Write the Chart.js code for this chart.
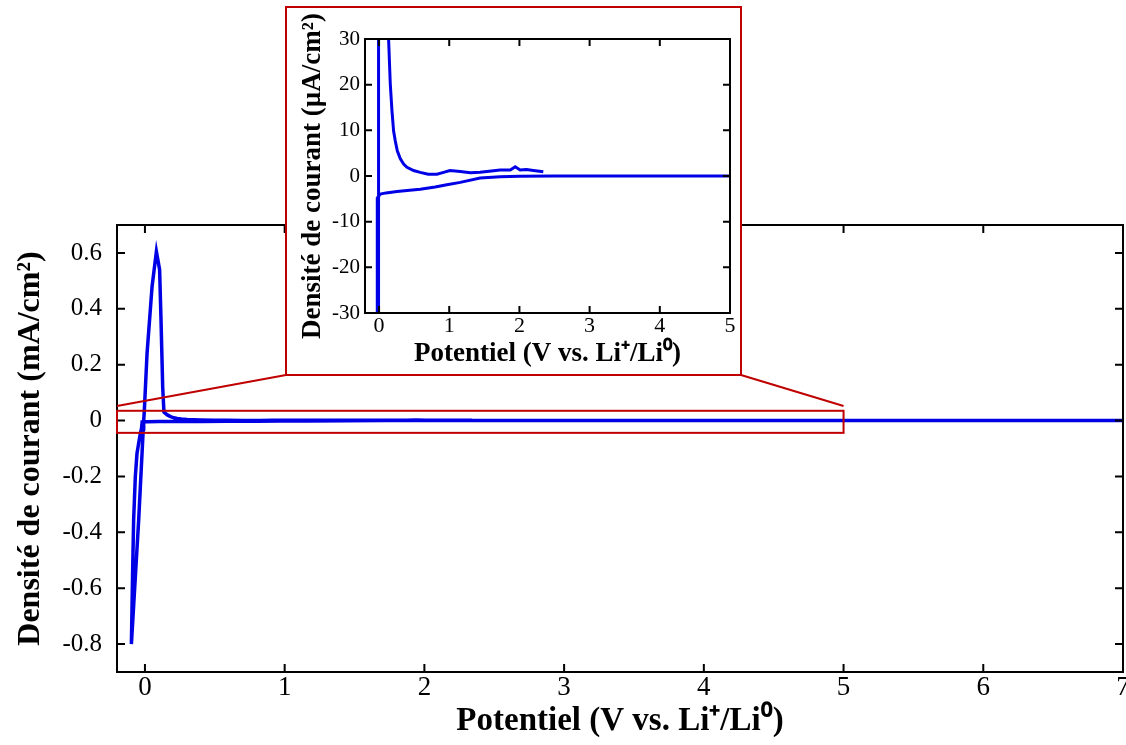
<!DOCTYPE html>
<html>
<head>
<meta charset="utf-8">
<script src="https://cdn.jsdelivr.net/npm/chart.js@4.4.1/dist/chart.umd.min.js"></script>
<style>
  body { margin: 0; background: #fff; }
  #wrap { position: relative; width: 1126px; height: 745px; }
  #mainChart { position: absolute; left: 0; top: 0; }
  #insetBox {
    position: absolute; left: 285px; top: 6px; width: 453px; height: 366px;
    border: 2px solid #c00000; background: #fff;
  }
  #insetChart { position: absolute; left: 0; top: 0; }
</style>
</head>
<body>
<div id="wrap">
  <canvas id="mainChart" width="1126" height="745"></canvas>
  <div id="insetBox"><canvas id="insetChart" width="453" height="366"></canvas></div>
</div>
<script>
// potential (V vs Li+/Li0) and current density (mA/cm2), one sweep in drawing order
const potential = [7, 6, 5, 4, 3, 2.5, 2.0, 1.726, 1.44, 1.157, 0.966, 0.8, 0.587, 0.4, 0.255, 0.1, 0.018, -0.02, -0.025,
  -0.033, -0.057, -0.069, -0.081, -0.088, -0.097,
  -0.045, -0.012, -0.009, -0.005, 0.015, 0.051, 0.082, 0.105, 0.115, 0.127, 0.136,
  0.16, 0.184, 0.207, 0.231, 0.26, 0.302, 0.35, 0.398, 0.492, 0.587, 0.7, 0.825, 0.92, 1.01, 1.157, 1.3, 1.44, 1.6, 1.726, 1.87, 1.94, 2.01, 2.1, 2.2, 2.34];
const currentDensity = [0, 0, 0, 0, 0, 0, -0.00005, -0.00015, -0.00045, -0.0014, -0.0019, -0.0024, -0.0029, -0.0032, -0.0034, -0.0037, -0.00395, -0.0047, -0.03,
  -0.046, -0.118, -0.202, -0.357, -0.537, -0.80,
  -0.357, -0.03, 0, 0.03, 0.24, 0.48, 0.605, 0.54, 0.36, 0.12, 0.03,
  0.0202, 0.0143, 0.0099, 0.0077, 0.0055, 0.0038, 0.0026, 0.0019, 0.0012, 0.0008, 0.0004, 0.0004, 0.0008, 0.0012, 0.001, 0.0007, 0.0008, 0.0011, 0.0013, 0.0013, 0.002, 0.0013, 0.0014, 0.0012, 0.00095];

const mainXTicks = [0, 1, 2, 3, 4, 5, 6, 7];
const mainYTicks = [-0.8, -0.6, -0.4, -0.2, 0, 0.2, 0.4, 0.6];
const insetXTicks = [0, 1, 2, 3, 4, 5];
const insetYTicks = [-30, -20, -10, 0, 10, 20, 30];

// zoom window shown in the inset (main units)
const zoomX = [-0.2, 5];
const zoomY = [-0.044, 0.035];
const connectY = 0.052;

const serif = 'Liberation Serif, Times New Roman, serif';
const red = '#c00000';
const blue = '#0000e6';

// frame with inward ticks on all four sides
const frameTicks = {
  id: 'frameTicks',
  afterDraw(chart, args, opts) {
    const {ctx, chartArea: a, scales: {x, y}} = chart;
    const L = opts.len;
    ctx.save();
    ctx.strokeStyle = '#000';
    ctx.lineWidth = opts.width;
    ctx.beginPath();
    x.ticks.forEach(t => {
      const px = x.getPixelForValue(t.value);
      ctx.moveTo(px, a.bottom); ctx.lineTo(px, a.bottom - L);
      ctx.moveTo(px, a.top); ctx.lineTo(px, a.top + L);
    });
    y.ticks.forEach(t => {
      const py = y.getPixelForValue(t.value);
      ctx.moveTo(a.left, py); ctx.lineTo(a.left + L, py);
      ctx.moveTo(a.right, py); ctx.lineTo(a.right - L, py);
    });
    ctx.stroke();
    ctx.strokeRect(a.left, a.top, a.right - a.left, a.bottom - a.top);
    ctx.restore();
  }
};

// red zoom rectangle and connectors to the inset box
const zoomBox = {
  id: 'zoomBox',
  afterDraw(chart) {
    const {ctx, scales: {x, y}} = chart;
    const x0 = x.getPixelForValue(zoomX[0]), x1 = x.getPixelForValue(zoomX[1]);
    const y0 = y.getPixelForValue(zoomY[1]), y1 = y.getPixelForValue(zoomY[0]);
    const cy = y.getPixelForValue(connectY);
    const box = document.getElementById('insetBox');
    const bl = box.offsetLeft + 1, br = box.offsetLeft + box.offsetWidth - 1;
    const bb = box.offsetTop + box.offsetHeight - 1;
    ctx.save();
    ctx.strokeStyle = red;
    ctx.lineWidth = 2;
    ctx.strokeRect(x0, y0, x1 - x0, y1 - y0);
    ctx.beginPath();
    ctx.moveTo(x0, cy); ctx.lineTo(bl, bb);
    ctx.moveTo(x1, cy); ctx.lineTo(br, bb);
    ctx.stroke();
    ctx.restore();
  }
};

// fixed axis sizes, no extra room for edge labels
const fixX = h => s => { s.height = h; s.paddingLeft = 0; s.paddingRight = 0; };
const fixY = w => s => { s.width = w; s.paddingTop = 0; s.paddingBottom = 0; };

const mainPoints = potential.map((v, i) => ({x: v, y: currentDensity[i]}));
const insetPoints = potential.map((v, i) => ({x: v, y: currentDensity[i] * 1000}));

new Chart(document.getElementById('mainChart'), {
  type: 'line',
  data: {
    datasets: [{
      data: mainPoints,
      borderColor: blue,
      borderWidth: 3.5,
      pointRadius: 0,
      tension: 0
    }]
  },
  options: {
    responsive: false,
    animation: false,
    layout: { padding: { top: 225, right: 3, left: 0, bottom: 0 } },
    plugins: {
      legend: { display: false },
      tooltip: { enabled: false },
      frameTicks: { len: 8, width: 2 }
    },
    scales: {
      x: {
        type: 'linear', min: -0.2, max: 7,
        afterBuildTicks: s => { s.ticks = mainXTicks.map(v => ({value: v})); },
        afterFit: fixX(73),
        grid: { display: false, drawTicks: false }, border: { display: false },
        ticks: { color: '#000', padding: 0, font: { family: serif, size: 27 }, callback: v => String(v) },
        title: {
          display: true, text: 'Potentiel (V vs. Li\u207A/Li\u2070)', color: '#000',
          font: { family: serif, size: 33, weight: 'bold', lineHeight: 1.2 }, padding: { top: 0, bottom: 4 }
        }
      },
      y: {
        type: 'linear', min: -0.9, max: 0.7,
        afterBuildTicks: s => { s.ticks = mainYTicks.map(v => ({value: v})); },
        afterFit: fixY(117),
        grid: { display: false, drawTicks: false }, border: { display: false },
        ticks: { color: '#000', padding: 15, font: { family: serif, size: 25 }, callback: v => String(v) },
        title: {
          display: true, text: 'Densité de courant (mA/cm²)', color: '#000',
          font: { family: serif, size: 32, weight: 'bold', lineHeight: 1.2 }, padding: { top: 12, bottom: 0 }
        }
      }
    }
  },
  plugins: [frameTicks, zoomBox]
});

new Chart(document.getElementById('insetChart'), {
  type: 'line',
  data: {
    datasets: [{
      data: insetPoints,
      borderColor: blue,
      borderWidth: 3,
      pointRadius: 0,
      tension: 0
    }]
  },
  options: {
    responsive: false,
    animation: false,
    layout: { padding: { top: 31, right: 10, left: 0, bottom: 0 } },
    plugins: {
      legend: { display: false },
      tooltip: { enabled: false },
      frameTicks: { len: 7, width: 2 }
    },
    scales: {
      x: {
        type: 'linear', min: -0.2, max: 5,
        afterBuildTicks: s => { s.ticks = insetXTicks.map(v => ({value: v})); },
        afterFit: fixX(61),
        grid: { display: false, drawTicks: false }, border: { display: false },
        ticks: { color: '#000', padding: 0, font: { family: serif, size: 22 }, callback: v => String(v) },
        title: {
          display: true, text: 'Potentiel (V vs. Li\u207A/Li\u2070)', color: '#000',
          font: { family: serif, size: 27, weight: 'bold', lineHeight: 1.2 }, padding: { top: 0, bottom: 4 }
        }
      },
      y: {
        type: 'linear', min: -30, max: 30,
        afterBuildTicks: s => { s.ticks = insetYTicks.map(v => ({value: v})); },
        afterFit: fixY(78),
        grid: { display: false, drawTicks: false }, border: { display: false },
        ticks: { color: '#000', padding: 5, font: { family: serif, size: 21 }, callback: v => String(v) },
        title: {
          display: true, text: 'Densité de courant (µA/cm²)', color: '#000',
          font: { family: serif, size: 27, weight: 'bold', lineHeight: 1.2 }, padding: { top: 10, bottom: 0 }
        }
      }
    }
  },
  plugins: [frameTicks]
});
</script>
</body>
</html>
